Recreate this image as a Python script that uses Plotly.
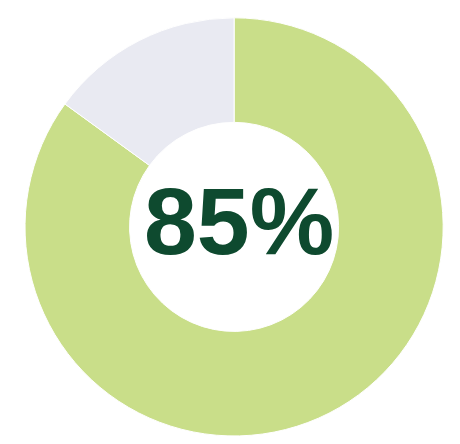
import plotly.graph_objects as go

labels = ["Done", "Remaining"]
values = [85, 15]
colors = ["#c9de89", "#e9eaf2"]
center_text = "85%"

fig = go.Figure()

fig.add_trace(go.Pie(
    labels=labels,
    values=values,
    hole=0.5,
    sort=False,
    direction="clockwise",
    rotation=0,
    marker=dict(colors=colors, line=dict(color="#ffffff", width=1)),
    textinfo="none",
    hoverinfo="label+percent",
    showlegend=False,
    domain=dict(x=[0.037, 0.946], y=[0.036, 0.978]),
))

fig.add_annotation(
    x=0.502, y=0.52, xref="paper", yref="paper",
    text=center_text,
    showarrow=False,
    font=dict(family="Liberation Sans", size=95, color="#0e4a2f", weight="bold"),
)

fig.update_layout(
    width=460,
    height=444,
    margin=dict(l=0, r=0, t=0, b=0),
    paper_bgcolor="white",
    plot_bgcolor="white",
)

fig.write_html("out.html")
